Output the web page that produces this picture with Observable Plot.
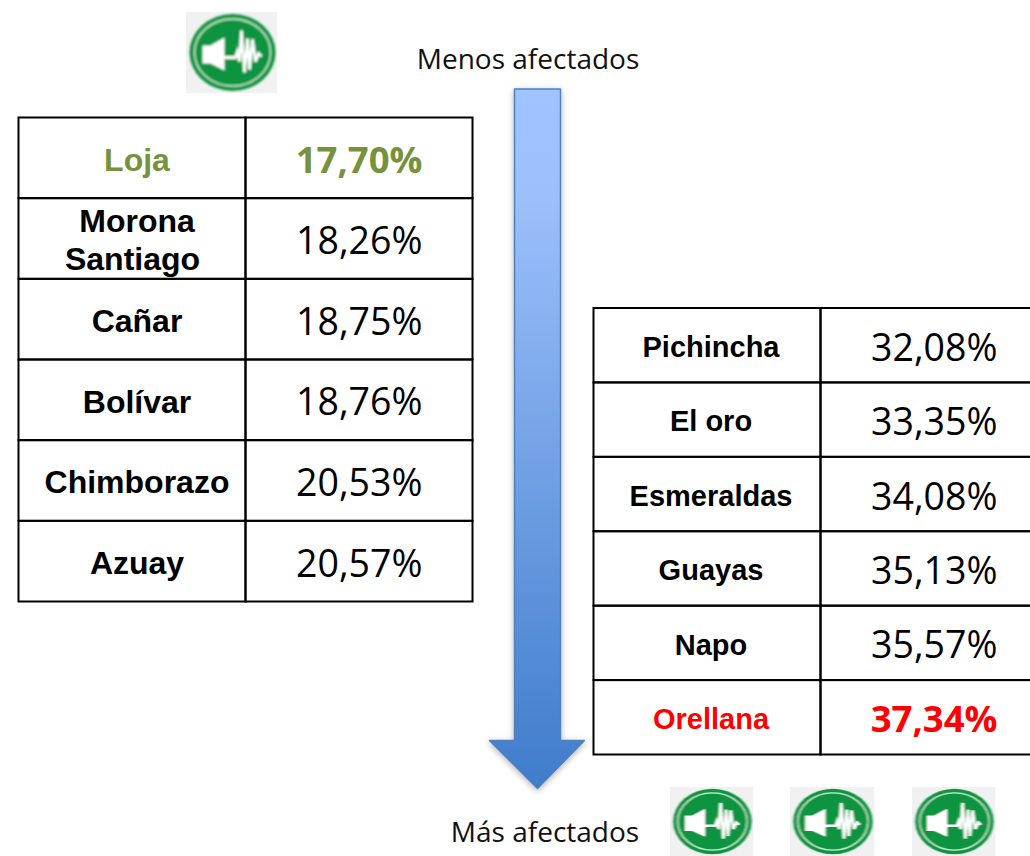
<!DOCTYPE html>
<html><head><meta charset="utf-8">
<script src="https://cdn.jsdelivr.net/npm/d3@7"></script>
<script src="https://cdn.jsdelivr.net/npm/@observablehq/plot@0.6"></script>
<style>html,body{margin:0;padding:0;background:#fff;overflow:hidden}svg{display:block}</style>
</head><body><div id="chart"></div>
<script>
// Data
const leftNames = ["Loja", "Morona\nSantiago", "Cañar", "Bolívar", "Chimborazo", "Azuay"];
const leftValues = [17.70, 18.26, 18.75, 18.76, 20.53, 20.57];
const rightNames = ["Pichincha", "El oro", "Esmeraldas", "Guayas", "Napo", "Orellana"];
const rightValues = [32.08, 33.35, 34.08, 35.13, 35.57, 37.34];
const topLabel = "Menos afectados";
const bottomLabel = "Más afectados";

// Layout
const W = 1030, H = 856;
const fmt = v => v.toFixed(2).replace(".", ",") + "%";
const tables = [
  {names: leftNames, values: leftValues, x0: 18.5, x1: 245.5, x2: 472.5, y0: 117.5, y1: 601.5, nameSize: 32, nameDx: 118, nameDy: 1, valueX: 422, highlight: {0: "#76923c"}},
  {names: rightNames, values: rightValues, x0: 593.5, x1: 820.5, x2: 1040, y0: 308, y1: 754.5, nameSize: 29, nameDx: 117, nameDy: 1, valueX: 997, highlight: {5: "#ff0000"}}
];
const cells = [], nameLabels = [], valueLabels = [];
for (const t of tables) {
  const h = (t.y1 - t.y0) / t.names.length;
  t.names.forEach((n, i) => {
    const a = t.y0 + i * h, b = a + h, c = t.highlight[i];
    cells.push({x1: t.x0, x2: t.x1, y1: a, y2: b}, {x1: t.x1, x2: t.x2, y1: a, y2: b});
    const lines = n.split("\n");
    lines.forEach((line, k) => nameLabels.push({
      x: t.x0 + t.nameDx - (k > 0 ? 4.5 : 0),
      y: a + h / 2 + t.nameDy + (k - (lines.length - 1) / 2) * 38 + 1,
      text: line, size: t.nameSize, color: c || "#000"
    }));
    valueLabels.push({x: t.valueX, y: a + h / 2 + 3, text: fmt(t.values[i]), color: c || "#000", bold: !!c});
  });
}
const arrow = [[514,88.5],[560,88.5],[560,740],[584,740],[537,788],[489,740],[514,740],[514,88.5]].map(([x,y]) => ({x,y}));
const icons = [
  {x: 185, y: 11, w: 92, h: 82},
  {x: 669, y: 786, w: 84, h: 70},
  {x: 789, y: 786, w: 85, h: 70},
  {x: 911, y: 786, w: 84, h: 70}
];
const iconSvg = `<svg xmlns='http://www.w3.org/2000/svg' viewBox='0 0 92 82' preserveAspectRatio='none'>
<defs><filter id='b' x='-5%' y='-5%' width='110%' height='110%'><feGaussianBlur stdDeviation='0.9'/></filter></defs>
<rect width='92' height='82' fill='#f1f1f1'/>
<g filter='url(#b)'>
<ellipse cx='47' cy='41' rx='43' ry='38.5' fill='#0f9440'/>
<ellipse cx='47' cy='41' rx='38' ry='33.5' fill='none' stroke='#d4eedc' stroke-width='1.4'/>
<path d='M17 34H25L39 26V59L25 52H17Z' fill='#fff'/>
<path d='M38 46H50L52 40L54 50L56 19L59 61L62 27L64 58L67 28L70 50L73 42L76 45' fill='none' stroke='#fff' stroke-width='2.8'/>
</g></svg>`;
const iconSrc = "data:image/svg+xml," + encodeURIComponent(iconSvg);

const defs = () => {
  const svg = d3.create("svg:g");
  const d = svg.append("defs");
  const g = d.append("linearGradient").attr("id", "arrowGrad").attr("x1", 0).attr("x2", 0).attr("y1", 0).attr("y2", 1);
  g.append("stop").attr("offset", "0%").attr("stop-color", "#a0c4ff");
  g.append("stop").attr("offset", "15%").attr("stop-color", "#9cc0fb");
  g.append("stop").attr("offset", "100%").attr("stop-color", "#3f7ccb");
  const f = d.append("filter").attr("id", "arrowShadow").attr("x", "-30%").attr("y", "-5%").attr("width", "160%").attr("height", "110%");
  f.append("feDropShadow").attr("dx", 0).attr("dy", 2).attr("stdDeviation", 3).attr("flood-color", "#000").attr("flood-opacity", 0.3);
  return svg.node();
};

const plot = Plot.plot({
  width: W, height: H, margin: 0,
  x: {domain: [0, W], range: [0, W], axis: null},
  y: {domain: [0, H], range: [0, H], axis: null},
  style: {background: "transparent"},
  marks: [
    defs,
    Plot.line(arrow, {x: "x", y: "y", fill: "url(#arrowGrad)", stroke: "#4f81bd", strokeWidth: 1.5, curve: "linear"}),
    Plot.rect(cells, {x1: "x1", x2: "x2", y1: "y1", y2: "y2", fill: "none", stroke: "#000", strokeWidth: 2}),
    Plot.image(icons, {x: d => d.x + d.w / 2, y: d => d.y + d.h / 2, width: "w", height: "h", src: () => iconSrc, preserveAspectRatio: "none"}),
    Plot.text(nameLabels, {x: "x", y: "y", text: "text", fill: "color", fontSize: "size", fontWeight: "bold", fontFamily: "Liberation Sans", textAnchor: "middle"}),
    Plot.text(valueLabels.filter(d => !d.bold), {x: "x", y: "y", text: "text", fill: "color", fontSize: 37.5, fontFamily: "Open Sans", textAnchor: "end"}),
    Plot.text(valueLabels.filter(d => d.bold), {x: "x", y: "y", text: "text", fill: "color", fontSize: 36.5, fontWeight: "bold", fontFamily: "Open Sans", textAnchor: "end"}),
    Plot.text([{x: 527.5, y: 60, t: topLabel}, {x: 544.5, y: 833, t: bottomLabel}], {x: "x", y: "y", text: "t", fontSize: 28, fontFamily: "Open Sans", fill: "#111", textAnchor: "middle"})
  ]
});
plot.querySelectorAll("path[fill^='url'], g[fill^='url']").forEach(p => p.setAttribute("filter", "url(#arrowShadow)"));
document.getElementById("chart").appendChild(plot);
</script></body></html>
